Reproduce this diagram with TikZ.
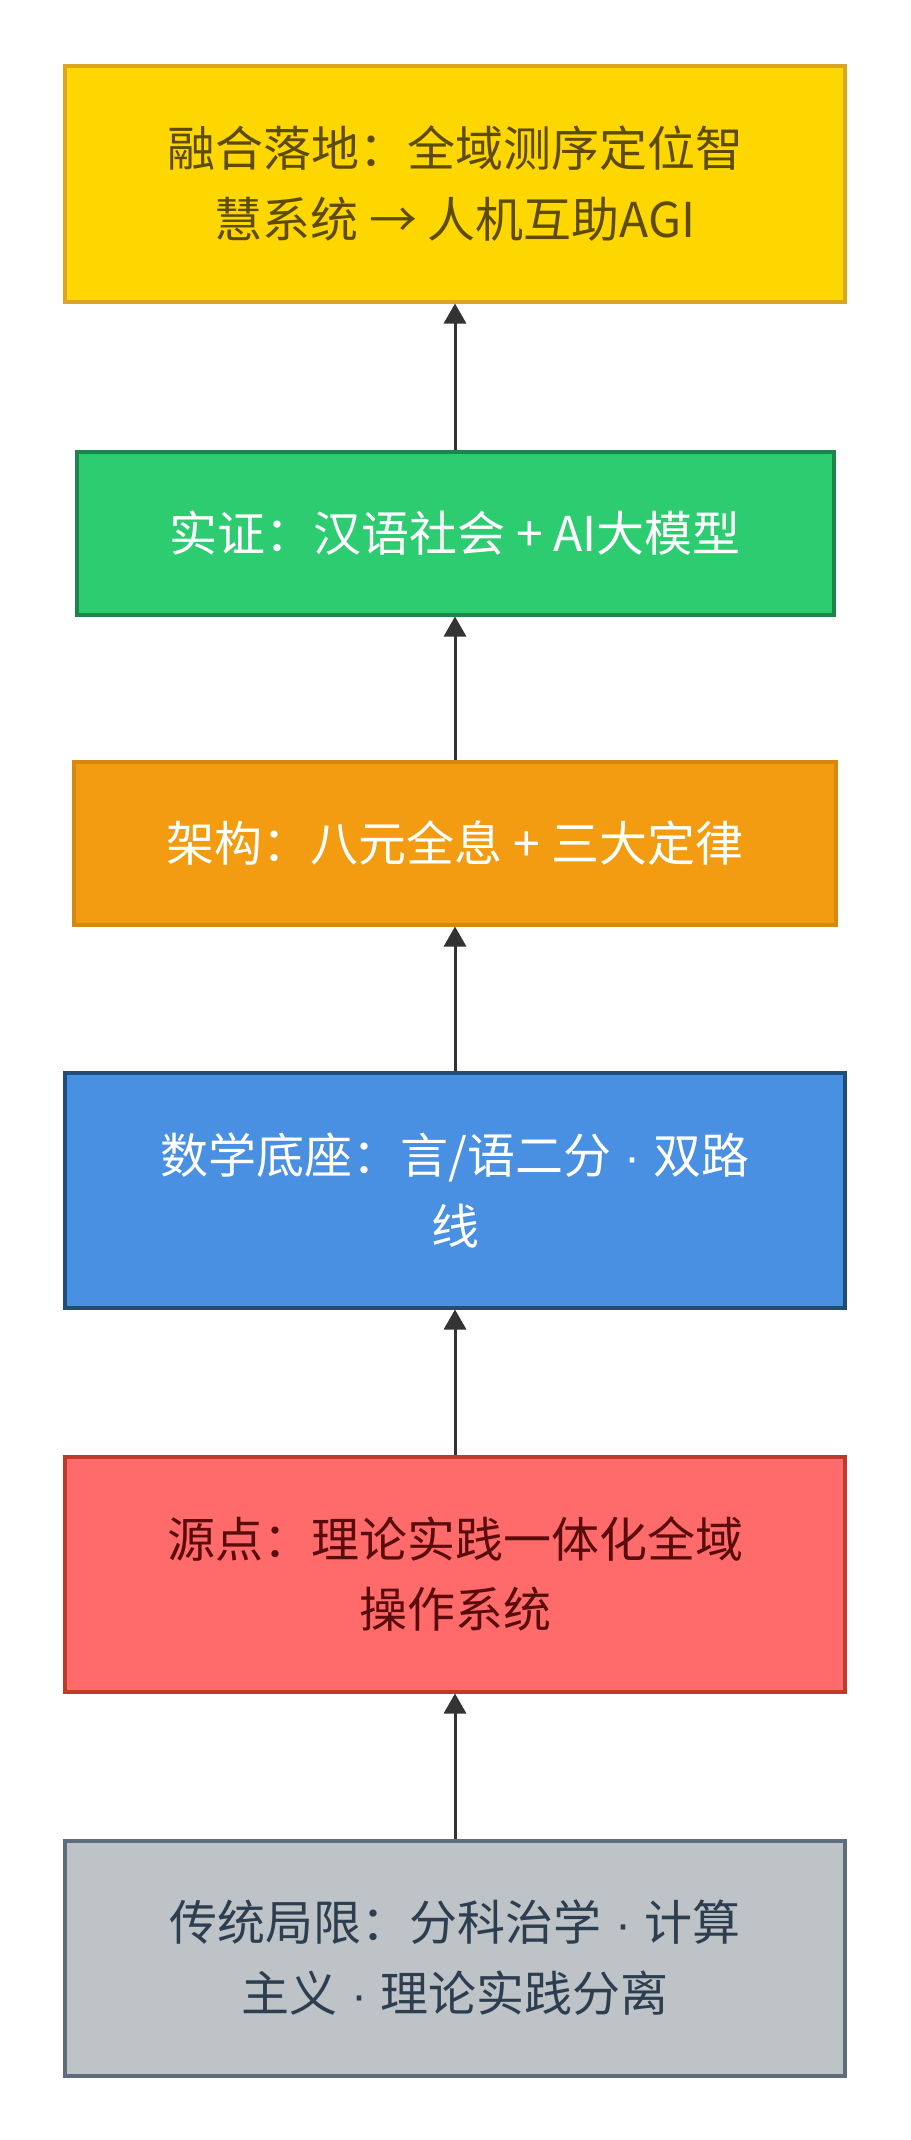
\documentclass[tikz,border=0pt]{standalone}
\usepackage{fontspec}
\setmainfont{Noto Sans CJK SC}
\newfontfamily\latinfont{Liberation Sans}
\usetikzlibrary{positioning,arrows.meta}
\definecolor{goldfill}{HTML}{FFD700}
\definecolor{golddraw}{HTML}{DAA520}
\definecolor{goldtext}{HTML}{5C4B00}
\definecolor{greenfill}{HTML}{2ECC71}
\definecolor{greendraw}{HTML}{1E8449}
\definecolor{orangefill}{HTML}{F39C12}
\definecolor{orangedraw}{HTML}{D68910}
\definecolor{bluefill}{HTML}{4A90E2}
\definecolor{bluedraw}{HTML}{1F4E79}
\definecolor{redfill}{HTML}{FF6B6B}
\definecolor{reddraw}{HTML}{C0392B}
\definecolor{redtext}{HTML}{5A0B0B}
\definecolor{grayfill}{HTML}{BDC3C7}
\definecolor{graydraw}{HTML}{5D6D7E}
\definecolor{graytext}{HTML}{2C3E50}
\definecolor{arrowcol}{HTML}{333333}
\newcommand{\mdot}{{\latinfont\ ·\ }}

\begin{document}
\begin{tikzpicture}[x=0.5pt,y=-0.5pt,
	stage/.style={rectangle, line width=2pt, align=center, inner sep=0pt,
		font=\fontsize{24}{35.5}\selectfont},
	tall/.style={minimum width=390pt, minimum height=117.5pt},
	short/.style={minimum height=81.5pt},
	link/.style={draw=arrowcol, line width=1.5pt, -{Triangle[length=10pt,width=11pt]}}]
	\useasboundingbox (0,0) rectangle (910,2140);
	% bottom up
	\node[stage, tall, fill=grayfill, draw=graydraw, text=graytext] (trad) at (455,1958)
		{传统局限：分科治学\mdot 计算\\主义\mdot 理论实践分离};
	\node[stage, tall, fill=redfill, draw=reddraw, text=redtext, above=72.5pt of trad] (origin)
		{源点：理论实践一体化全域\\操作系统};
	\node[stage, tall, fill=bluefill, draw=bluedraw, text=white, above=72.5pt of origin] (math)
		{数学底座：言/语二分\mdot 双路\\线};
	\node[stage, short, minimum width=381pt, fill=orangefill, draw=orangedraw, text=white, above=72pt of math] (arch)
		{架构：八元全息 + 三大定律};
	\node[stage, short, minimum width=378.5pt, fill=greenfill, draw=greendraw, text=white, above=71.5pt of arch] (proof)
		{实证：汉语社会 + AI大模型};
	\node[stage, tall, fill=goldfill, draw=golddraw, text=goldtext, above=73pt of proof] (fusion)
		{融合落地：全域测序定位智\\慧系统 → 人机互助AGI};
	\draw[link] (trad) -- (origin);
	\draw[link] (origin) -- (math);
	\draw[link] (math) -- (arch);
	\draw[link] (arch) -- (proof);
	\draw[link] (proof) -- (fusion);
\end{tikzpicture}
\end{document}
